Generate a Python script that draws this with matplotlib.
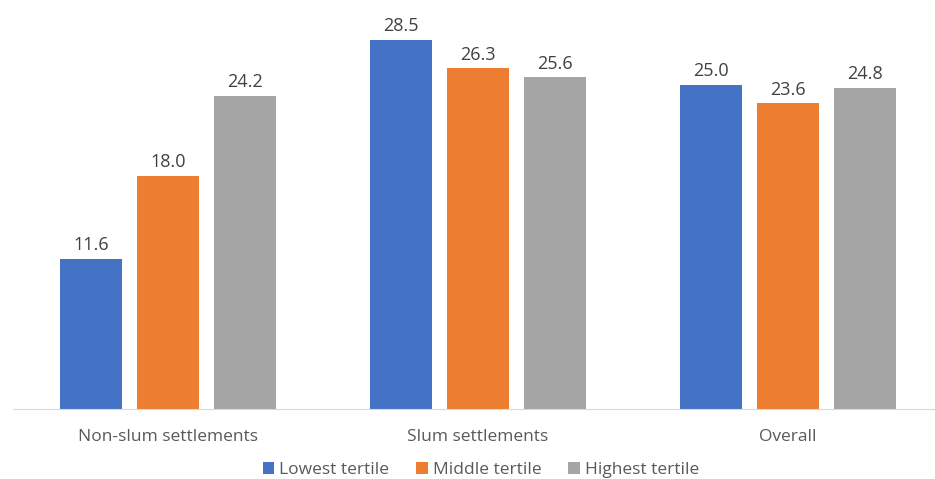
import matplotlib
matplotlib.use("Agg")
import matplotlib.pyplot as plt
import numpy as np

categories = ["Non-slum settlements", "Slum settlements", "Overall"]
series_names = ["Lowest tertile", "Middle tertile", "Highest tertile"]
lowest = [11.6, 28.5, 25.0]
middle = [18.0, 26.3, 23.6]
highest = [24.2, 25.6, 24.8]
colors = ["#4472C4", "#ED7D31", "#A5A5A5"]

plt.rcParams['font.family'] = ['Open Sans', 'DejaVu Sans']
W, H = 935, 479
fig = plt.figure(figsize=(W/100, H/100), dpi=100)
base_px = 409
top_px = 409 - 30*12.95
ax = fig.add_axes([13/W, (H-base_px)/H, (W-13)/W, (base_px-top_px)/H])
ax.set_xlim(-0.5, (935-168)/310)
ax.set_ylim(0, 30)

x = np.arange(len(categories))
bw = 0.2
off = 0.248
text_color = "#595959"
bars_all = []
for i, (vals, name) in enumerate(zip([lowest, middle, highest], series_names)):
    b = ax.bar(x + (i-1)*off, vals, bw, color=colors[i], label=name)
    bars_all.append(b)
    for xi, v in zip(x + (i-1)*off, vals):
        ax.annotate(f"{v:.1f}", (xi, v), xytext=(0, 3.5), textcoords="offset points",
                    ha="center", va="bottom", fontsize=13, color="#404040")

for s in ["top", "right", "left"]:
    ax.spines[s].set_visible(False)
ax.spines["bottom"].set_color("#D9D9D9")
ax.set_yticks([])
ax.set_xticks(x)
ax.set_xticklabels(categories, fontsize=12.5, color=text_color)
ax.tick_params(axis="x", length=0, pad=14.5)

leg = fig.legend(handles=bars_all, labels=series_names, loc="center",
                 bbox_to_anchor=(481/W, 1-470/H), ncol=3, frameon=False,
                 fontsize=12.5, handlelength=0.65, handleheight=0.65, handletextpad=0.3,
                 columnspacing=1.55)
for t in leg.get_texts():
    t.set_color(text_color)

fig.savefig("out.png", dpi=100)
